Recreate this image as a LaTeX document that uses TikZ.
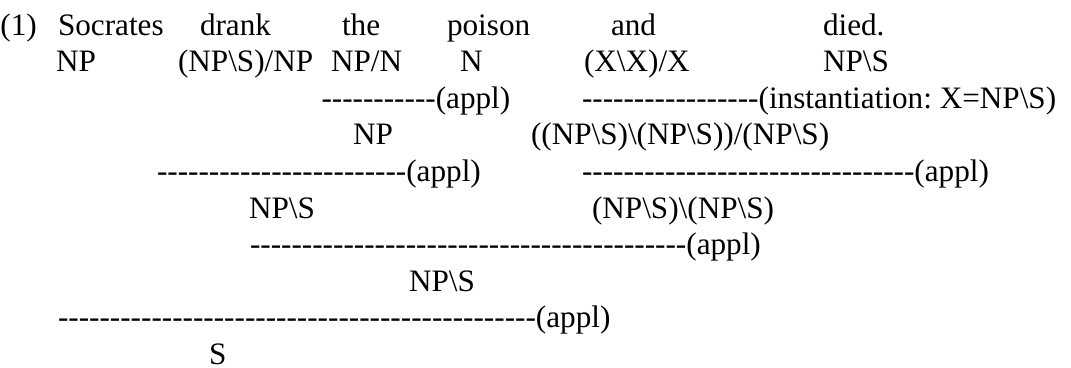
\documentclass[tikz,border=0pt]{standalone}
\usepackage{fontspec}
\setmainfont{Liberation Serif}
\newcommand\bsl{\textbackslash}
\newcommand\hyph[1]{\foreach \ii in {1,...,#1}{\mbox{-}}}
\begin{document}
\frenchspacing
\begin{tikzpicture}[x=0.4pt,y=-0.4pt,
  lbl/.style={anchor=base west,inner sep=0pt,outer sep=0pt,font=\fontsize{12.48}{15}\selectfont}]
\useasboundingbox (0,0) rectangle (1071,367);
% row 1: words
\node[lbl] (p1) at (0.5,35) {(1)};
\node[lbl] (w1) at (58,35) {Socrates};
\node[lbl] (w2) at (200,35) {drank};
\node[lbl] (w3) at (342,35) {the};
\node[lbl] (w4) at (447,35) {poison};
\node[lbl] (w5) at (611,35) {and};
\node[lbl] (w6) at (823,35) {died.};
% row 2: lexical categories
\node[lbl] (c1) at (56,71.6) {NP};
\node[lbl] (c2) at (178,71.6) {(NP\bsl S)/NP};
\node[lbl] (c3) at (331,71.6) {NP/N};
\node[lbl] (c4) at (460,71.6) {N};
\node[lbl] (c5) at (584,71.6) {(X\bsl X)/X};
\node[lbl] (c6) at (823,71.6) {NP\bsl S};
% row 3
\node[lbl] (d1) at (321.5,108.2) {\hyph{11}(appl)};
\node[lbl] (d2) at (582,108.2) {\hyph{17}(instantiation: X=NP\bsl S)};
% row 4
\node[lbl] (r1) at (353,144.8) {NP};
\node[lbl] (r2) at (531,144.8) {((NP\bsl S)\bsl(NP\bsl S))/(NP\bsl S)};
% row 5
\node[lbl] (d3) at (157,181.4) {\hyph{24}(appl)};
\node[lbl] (d4) at (582,181.4) {\hyph{32}(appl)};
% row 6
\node[lbl] (r3) at (249,218) {NP\bsl S};
\node[lbl] (r4) at (592,218) {(NP\bsl S)\bsl(NP\bsl S)};
% row 7
\node[lbl] (d5) at (250,254.6) {\hyph{42}(appl)};
% row 8
\node[lbl] (r5) at (409,291.2) {NP\bsl S};
% row 9
\node[lbl] (d6) at (58,327.8) {\hyph{46}(appl)};
% row 10
\node[lbl] (r6) at (209,364.2) {S};
\end{tikzpicture}
\end{document}
